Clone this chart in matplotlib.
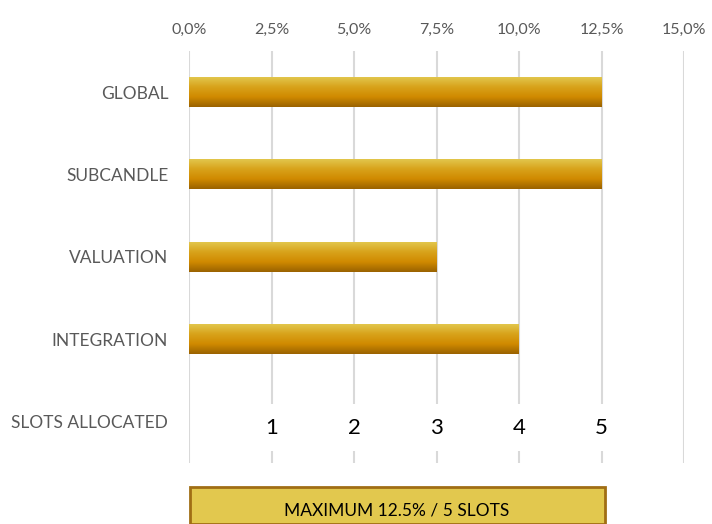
import matplotlib.pyplot as plt
import numpy as np
from matplotlib.colors import LinearSegmentedColormap
from matplotlib.patches import Rectangle

plt.rcParams['font.family'] = ['Lato', 'DejaVu Sans']

categories = ['GLOBAL', 'SUBCANDLE', 'VALUATION', 'INTEGRATION', 'SLOTS ALLOCATED']
shares = [12.5, 12.5, 7.5, 10.0]
slot_pos = [2.5, 5.0, 7.5, 10.0, 12.5]
slot_labels = ['1', '2', '3', '4', '5']
x_ticks = [0, 2.5, 5, 7.5, 10, 12.5, 15]
note = 'MAXIMUM 12.5% / 5 SLOTS'

gold = LinearSegmentedColormap.from_list(
    'gold', ['#E2C64C', '#D8A21A', '#D08A00', '#9A6200'])
grad = np.linspace(0, 1, 64).reshape(-1, 1)

fig = plt.figure(figsize=(7.12, 5.24), dpi=100)
ax = fig.add_axes([189 / 712, 1 - 463 / 524, 495 / 712, 412 / 524])

bars = ax.barh(range(len(shares)), shares, height=0.36, color='none')
for b in bars:
    x0, y0 = b.get_x(), b.get_y()
    w, h = b.get_width(), b.get_height()
    ax.imshow(grad, cmap=gold, aspect='auto', extent=(x0, x0 + w, y0 + h, y0),
              zorder=2, interpolation='bicubic')

for x, lab in zip(slot_pos, slot_labels):
    ax.text(x, 4.07, lab, ha='center', va='center', fontsize=16, color='black',
            zorder=3, bbox=dict(facecolor='white', edgecolor='none', pad=10))

ax.set_xlim(0, 15)
ax.set_ylim(4.5, -0.5)
ax.set_xticks(x_ticks)
ax.set_xticklabels([f'{t:.1f}%'.replace('.', ',') for t in x_ticks])
ax.xaxis.tick_top()
ax.set_yticks(range(len(categories)))
ax.set_yticklabels(categories)
ax.tick_params(axis='both', length=0, labelcolor='#595959')
ax.tick_params(axis='x', pad=10, labelsize=11.5)
ax.tick_params(axis='y', pad=15, labelsize=12.5)
ax.grid(axis='x', color='#D9D9D9', linewidth=1.5, zorder=0)
ax.set_axisbelow(True)
for s in ax.spines.values():
    s.set_visible(False)

fig.patches.append(Rectangle((190 / 712, 0), 415 / 712, 37 / 524,
                             transform=fig.transFigure, facecolor='#E2C84E',
                             edgecolor='#A06E14', linewidth=2))
fig.text(397 / 712, 14 / 524, note, ha='center', va='center', fontsize=12.5,
         color='black')

fig.savefig('out.png', dpi=100)
